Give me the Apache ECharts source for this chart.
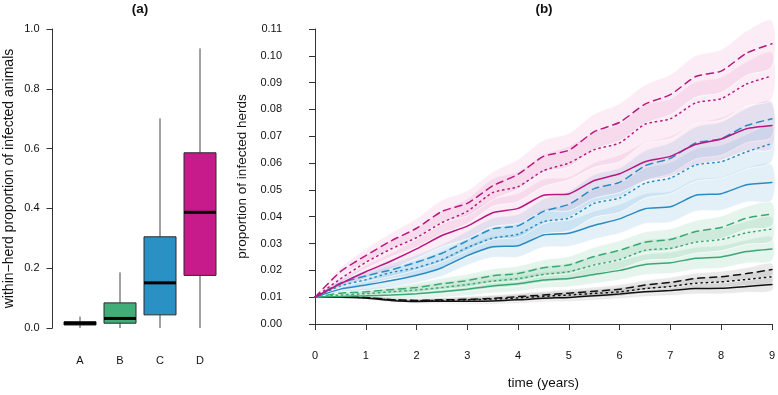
<!DOCTYPE html>
<html><head><meta charset="utf-8">
<script src="https://cdn.jsdelivr.net/npm/echarts@6/dist/echarts.min.js"></script>
<style>html,body{margin:0;padding:0;background:#fff}#c{width:778px;height:395px}</style>
</head><body><div id="c"></div>
<script>
// ---- panel (a): within-herd proportion boxplots ----
const boxCategories = ['A', 'B', 'C', 'D'];
// [lower whisker, Q1, median, Q3, upper whisker]
const boxA = [0, 0.010, 0.016, 0.021, 0.038];
const boxB = [0, 0.016, 0.032, 0.084, 0.186];
const boxC = [0, 0.044, 0.151, 0.305, 0.701];
const boxD = [0, 0.176, 0.387, 0.586, 0.935];
const leftTicks = [0, 0.2, 0.4, 0.6, 0.8, 1.0];

// ---- panel (b): proportion of infected herds (values in %) ----
const times = [0, 0.5, 1, 1.5, 2, 2.5, 3, 3.5, 4, 4.5, 5, 5.5, 6, 6.5, 7, 7.5, 8, 8.5, 9];
const magentaSolid  = [1.0,1.5,1.95,2.35,2.8,3.3,3.65,4.15,4.31,4.8,4.85,5.35,5.6,6.05,6.25,6.7,6.9,7.28,7.4];
const magentaDotted = [1.0,1.68,2.3,2.8,3.22,3.78,4.2,4.9,5.12,5.72,6.0,6.5,6.75,7.45,7.65,8.25,8.4,8.95,9.25];
const magentaDashed = [1.0,1.95,2.55,3.1,3.57,4.2,4.5,5.15,5.58,6.25,6.48,7.17,7.52,8.2,8.55,9.23,9.43,10.1,10.45];
const blueSolid  = [1.0,1.3,1.45,1.62,1.82,2.1,2.55,2.88,2.92,3.32,3.38,3.68,3.92,4.3,4.37,4.8,4.86,5.19,5.28];
const blueDotted = [1.0,1.42,1.65,1.92,2.1,2.4,2.85,3.2,3.35,3.82,3.95,4.5,4.7,5.25,5.44,5.93,6.05,6.42,6.73];
const blueDashed = [1.0,1.52,1.79,2.02,2.3,2.64,3.1,3.55,3.66,4.2,4.46,5.05,5.28,5.9,6.18,6.75,6.91,7.4,7.65];
const greenSolid  = [1.0,1.03,1.05,1.08,1.13,1.2,1.3,1.42,1.5,1.64,1.7,1.85,2.0,2.22,2.28,2.45,2.5,2.7,2.8];
const greenDotted = [1.0,1.08,1.13,1.2,1.27,1.36,1.47,1.6,1.69,1.85,1.95,2.2,2.4,2.75,2.82,3.05,3.15,3.4,3.54];
const greenDashed = [1.0,1.15,1.2,1.28,1.36,1.5,1.62,1.8,1.88,2.1,2.2,2.52,2.75,3.05,3.15,3.45,3.6,3.95,4.1];
const blackSolid  = [1.0,1.0,0.97,0.88,0.84,0.85,0.85,0.86,0.9,0.96,0.99,1.05,1.12,1.2,1.25,1.32,1.33,1.4,1.47];
const blackDotted = [1.0,1.01,0.98,0.9,0.87,0.88,0.9,0.93,0.97,1.03,1.08,1.14,1.2,1.32,1.4,1.52,1.57,1.66,1.76];
const blackDashed = [1.0,1.02,0.99,0.91,0.88,0.9,0.92,0.96,1.02,1.08,1.15,1.22,1.3,1.45,1.55,1.7,1.76,1.88,2.03];
// band half-widths (in %) read from the shaded envelopes
const magentaSpread = [0,0.15,0.25,0.3,0.36,0.42,0.47,0.52,0.56,0.6,0.63,0.66,0.7,0.72,0.75,0.78,0.8,0.83,0.86];
const blueSpread    = [0,0.12,0.2,0.24,0.28,0.32,0.36,0.4,0.43,0.46,0.49,0.52,0.54,0.56,0.58,0.6,0.62,0.64,0.66];
const greenSpread   = [0,0.08,0.12,0.15,0.18,0.21,0.24,0.26,0.28,0.3,0.32,0.34,0.36,0.38,0.4,0.41,0.42,0.43,0.44];
const blackSpread   = [0,0.05,0.07,0.08,0.09,0.1,0.11,0.12,0.13,0.14,0.15,0.16,0.17,0.18,0.19,0.2,0.21,0.22,0.23];
const rightTicks = [0,0.01,0.02,0.03,0.04,0.05,0.06,0.07,0.08,0.09,0.10,0.11];
const xTicks = [0,1,2,3,4,5,6,7,8,9];

const FONT = '"Liberation Sans", Arial, Helvetica, sans-serif';
const TXT = '#111';
const AX = '#333';

const boxStats = [boxA, boxB, boxC, boxD];
const boxFills = ['#1a1a1a', '#41AE7A', '#2A91C4', '#C81B8B'];

const groups = [
  {color: '#111111', band: 'rgba(120,120,120,0.16)', spread: blackSpread, lines: [blackSolid, blackDotted, blackDashed]},
  {color: '#3AA872', band: 'rgba(70,175,120,0.14)', spread: greenSpread, lines: [greenSolid, greenDotted, greenDashed]},
  {color: '#2A8BC0', band: 'rgba(60,150,205,0.14)', spread: blueSpread, lines: [blueSolid, blueDotted, blueDashed]},
  {color: '#B8187F', band: 'rgba(228,120,182,0.14)', spread: magentaSpread, lines: [magentaSolid, magentaDotted, magentaDashed]}
];
const lineTypes = ['solid', [1.3, 4], [7, 5]];

const series = [];
// boxplots
series.push({
  type: 'custom', xAxisIndex: 0, yAxisIndex: 0, silent: true,
  data: boxCategories.map((c, i) => [i].concat(boxStats[i])),
  renderItem: function (params, api) {
    const i = api.value(0);
    const cx = api.coord([i, 0])[0];
    const w = api.size([1, 0])[0] * 0.8;
    const y = v => api.coord([i, v])[1];
    const lo = y(api.value(1)), q1 = y(api.value(2)), md = y(api.value(3)), q3 = y(api.value(4)), hi = y(api.value(5));
    return {type: 'group', children: [
      {type: 'line', shape: {x1: cx, y1: lo, x2: cx, y2: q1}, style: {stroke: '#444', lineWidth: 1}},
      {type: 'line', shape: {x1: cx, y1: q3, x2: cx, y2: hi}, style: {stroke: '#444', lineWidth: 1}},
      {type: 'rect', shape: {x: cx - w / 2, y: q3, width: w, height: q1 - q3}, style: {fill: boxFills[i], stroke: '#2a2a2a', lineWidth: 1}},
      {type: 'line', shape: {x1: cx - w / 2, y1: md, x2: cx + w / 2, y2: md}, style: {stroke: '#000', lineWidth: 3}}
    ]};
  }
});
// bands
groups.forEach(g => {
  g.lines.forEach(vals => {
    series.push({
      type: 'custom', xAxisIndex: 1, yAxisIndex: 1, silent: true, z: 1,
      data: [[0, 0.01]],
      renderItem: function (params, api) {
        const up = times.map((t, k) => api.coord([t, (vals[k] + g.spread[k]) / 100]));
        const lo = times.map((t, k) => api.coord([t, (vals[k] - g.spread[k]) / 100])).reverse();
        return {type: 'polygon', shape: {points: up.concat(lo), smooth: 0.3},
          style: {fill: g.band, stroke: 'rgba(255,255,255,0.7)', lineWidth: 1}};
      }
    });
  });
});
// lines
groups.forEach(g => {
  g.lines.forEach((vals, j) => {
    series.push({
      type: 'line', xAxisIndex: 1, yAxisIndex: 1, z: 3, silent: true,
      showSymbol: false, symbol: 'none', smooth: 0.2,
      data: times.map((t, k) => [t, vals[k] / 100]),
      lineStyle: {color: g.color, width: 1.5, type: lineTypes[j], cap: 'round'}
    });
  });
});

const option = {
  animation: false,
  backgroundColor: '#fff',
  textStyle: {fontFamily: FONT},
  graphic: [
    {type: 'text', x: 140, y: 9, style: {text: '(a)', font: 'bold 13.5px ' + FONT, fill: TXT, textAlign: 'center', textVerticalAlign: 'middle'}},
    {type: 'text', x: 544, y: 9, style: {text: '(b)', font: 'bold 13.5px ' + FONT, fill: TXT, textAlign: 'center', textVerticalAlign: 'middle'}}
  ],
  grid: [
    {left: 60, top: 29, width: 160, bottom: 67},
    {left: 315, top: 29, right: 4, bottom: 67.3}
  ],
  xAxis: [
    {gridIndex: 0, type: 'category', data: boxCategories, boundaryGap: true,
      axisLine: {show: false}, axisTick: {show: false}, splitLine: {show: false},
      axisLabel: {color: TXT, fontSize: 11, margin: 27, fontFamily: FONT}},
    {gridIndex: 1, type: 'value', min: 0, max: 9, interval: 1, offset: 12,
      axisLine: {show: true, lineStyle: {color: AX, width: 1}},
      axisTick: {show: true, length: 6, lineStyle: {color: AX}},
      splitLine: {show: false},
      axisLabel: {color: TXT, fontSize: 11, margin: 14, fontFamily: FONT,
        customValues: xTicks, formatter: v => String(v)},
      name: 'time (years)', nameLocation: 'middle', nameGap: 40,
      nameTextStyle: {color: TXT, fontSize: 13.5, fontFamily: FONT}}
  ],
  yAxis: [
    {gridIndex: 0, type: 'value', min: 0, max: 1, interval: 0.2, offset: 7.5,
      axisLine: {show: true, lineStyle: {color: AX, width: 1}},
      axisTick: {show: true, length: 6, lineStyle: {color: AX}},
      splitLine: {show: false},
      axisLabel: {color: TXT, fontSize: 11, margin: 13, fontFamily: FONT,
        customValues: leftTicks, formatter: v => v.toFixed(1)},
      name: 'within\u2212herd proportion of infected animals', nameLocation: 'middle', nameGap: 36,
      nameTextStyle: {color: TXT, fontSize: 14, fontFamily: FONT}},
    {gridIndex: 1, type: 'value', min: 0, max: 0.11, interval: 0.01, offset: 19,
      axisLine: {show: true, lineStyle: {color: AX, width: 1}},
      axisTick: {show: true, length: 6, lineStyle: {color: AX}},
      splitLine: {show: false},
      axisLabel: {color: TXT, fontSize: 11, margin: 14, fontFamily: FONT,
        customValues: rightTicks, formatter: v => v.toFixed(2)},
      name: 'proportion of infected herds', nameLocation: 'middle', nameGap: 38,
      nameTextStyle: {color: TXT, fontSize: 13.5, fontFamily: FONT}}
  ],
  series: series
};
const chart = echarts.init(document.getElementById('c'), null, {renderer: 'canvas'});
chart.setOption(option);
</script>
</body></html>
